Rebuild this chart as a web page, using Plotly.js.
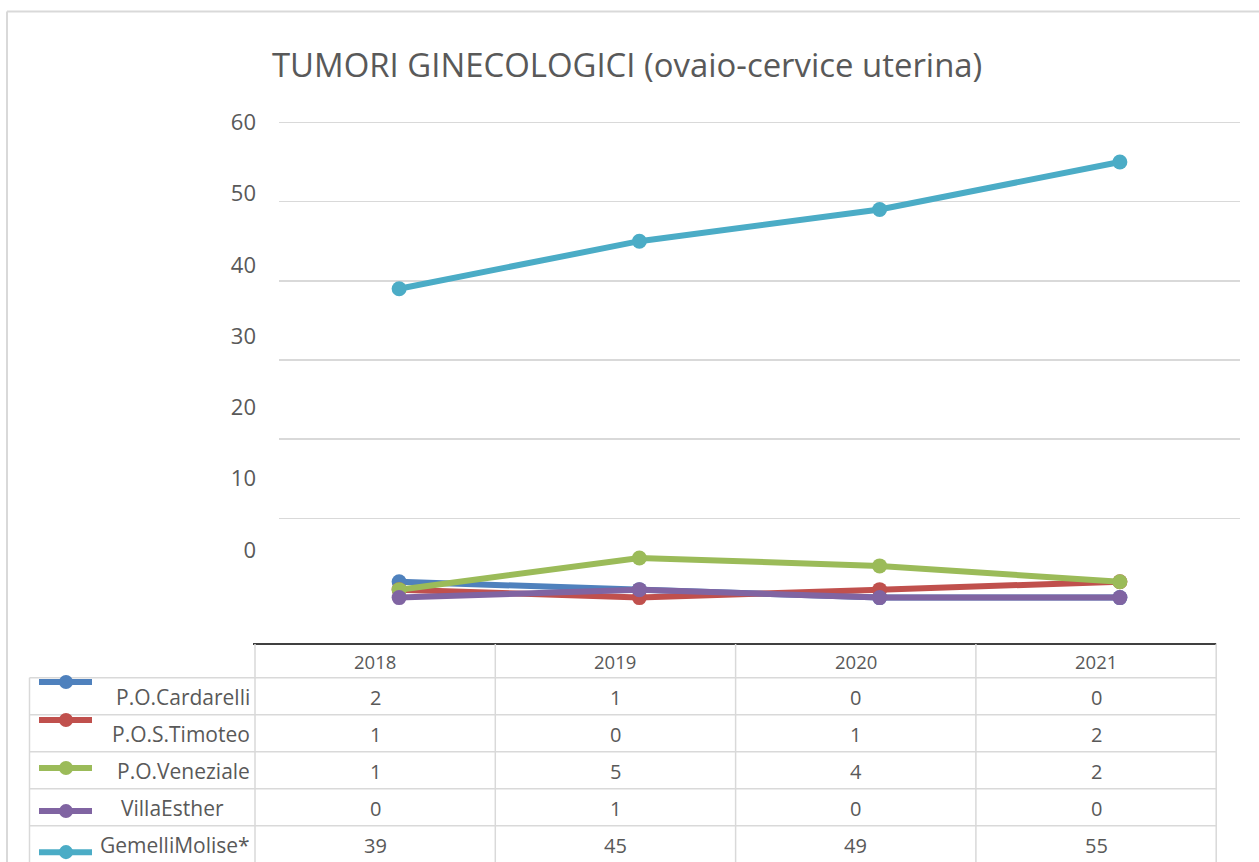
<!DOCTYPE html>
<html>
<head>
<meta charset="utf-8">
<script src="https://cdn.plot.ly/plotly-3.0.1.min.js"></script>
<style>
  html, body { margin: 0; padding: 0; background: #fff; }
  #chart { width: 1259px; height: 862px; }
</style>
</head>
<body>
<div id="chart"></div>
<script>
// data
const years = ["2018", "2019", "2020", "2021"];
const seriesNames = ["P.O.Cardarelli", "P.O.S.Timoteo", "P.O.Veneziale", "VillaEsther", "GemelliMolise*"];
const cardarelli = [2, 1, 0, 0];
const timoteo = [1, 0, 1, 2];
const veneziale = [1, 5, 4, 2];
const villaEsther = [0, 1, 0, 0];
const gemelli = [39, 45, 49, 55];
const yTickValues = [0, 10, 20, 30, 40, 50, 60];

const allSeries = [cardarelli, timoteo, veneziale, villaEsther, gemelli];
const colors = ["#4F81BD", "#C0504D", "#9BBB59", "#8064A2", "#4BACC6"];

const W = 1259, H = 862;
const pxPerUnit = 7.915;
const yMin = -5.86, yMax = 60.3;
const mL = 279, mR = 19, mB = 218;
const mT = 122.7 - (yMax - 60) * pxPerUnit;
const plotW = W - mL - mR, plotH = H - mT - mB;
const grey = "#595959", gridGrey = "#D9D9D9";
const font = "Open Sans, sans-serif";

// pixel -> paper helpers
const px = x => (x - mL) / plotW;
const py = y => (H - mB - y) / plotH;

const traces = allSeries.map((vals, i) => ({
  x: years,
  y: vals,
  type: "scatter",
  mode: "lines+markers",
  name: seriesNames[i],
  line: { color: colors[i], width: 6 },
  marker: { color: colors[i], size: 15 },
  showlegend: false,
  hoverinfo: "skip"
}));

// the tick labels in the picture sit a bit off their gridlines
const labelPos = yTickValues.map(v => 6.01 + v * 0.8998);
traces.push({
  x: [years[0]], y: [null], yaxis: "y2", type: "scatter", mode: "markers",
  showlegend: false, hoverinfo: "skip"
});

const shapes = [];
const annotations = [];

// outer chart border
shapes.push({ type: "line", xref: "paper", yref: "paper", x0: px(7), x1: px(W + 5), y0: py(12), y1: py(12), line: { color: gridGrey, width: 2 } });
shapes.push({ type: "line", xref: "paper", yref: "paper", x0: px(7), x1: px(7), y0: py(12), y1: py(H + 5), line: { color: gridGrey, width: 2 } });

// data table
const tblLeft = 29.5, tblCol0 = 255, colW = 240.3, tblTop = 644, hdrH = 33.7, rowH = 37;
const tblRight = tblCol0 + colW * years.length;
const rowTop = i => tblTop + hdrH + i * rowH;

// horizontal rules
shapes.push({ type: "line", xref: "paper", yref: "paper", x0: px(tblCol0 - 2), x1: px(tblRight), y0: py(tblTop), y1: py(tblTop), line: { color: "#000", width: 1.5 } });
for (let i = 0; i <= seriesNames.length; i++) {
  const y = rowTop(i);
  shapes.push({ type: "line", xref: "paper", yref: "paper", x0: px(tblLeft), x1: px(tblRight), y0: py(y), y1: py(y), line: { color: gridGrey, width: 1.5 } });
}
// vertical rules
shapes.push({ type: "line", xref: "paper", yref: "paper", x0: px(tblLeft), x1: px(tblLeft), y0: py(rowTop(0)), y1: py(H + 5), line: { color: gridGrey, width: 1.5 } });
for (let c = 0; c <= years.length; c++) {
  const x = tblCol0 + c * colW;
  shapes.push({ type: "line", xref: "paper", yref: "paper", x0: px(x), x1: px(x), y0: py(tblTop), y1: py(H + 5), line: { color: gridGrey, width: 1.5 } });
}

// header text
years.forEach((yr, c) => {
  annotations.push({ xref: "paper", yref: "paper", x: px(tblCol0 + (c + 0.5) * colW), y: py(tblTop + hdrH / 2 + 1), text: yr, showarrow: false, xanchor: "center", yanchor: "middle", font: { family: font, size: 18.5, color: grey } });
});

// row labels start at x=119, long ones get pushed back to end at the cell edge
const labelSize = 21;
const ctx = document.createElement("canvas").getContext("2d");
ctx.font = labelSize + "px 'Open Sans'";

// body rows with legend keys
seriesNames.forEach((nm, i) => {
  const mid = rowTop(i) + rowH / 2 + 1;
  const w = ctx.measureText(nm).width * 1.02;
  const fits = 119 + w <= 252;
  annotations.push({ xref: "paper", yref: "paper", x: px(fits ? 119 : 252), y: py(mid), text: nm, showarrow: false, xanchor: fits ? "left" : "right", yanchor: "middle", font: { family: font, size: labelSize, color: grey } });
  allSeries[i].forEach((v, c) => {
    annotations.push({ xref: "paper", yref: "paper", x: px(tblCol0 + (c + 0.5) * colW), y: py(mid), text: String(v), showarrow: false, xanchor: "center", yanchor: "middle", font: { family: font, size: 20, color: grey } });
  });
  const keyY = [682, 720, 768, 811, 852][i];
  shapes.push({ type: "line", xref: "paper", yref: "paper", x0: px(39), x1: px(92), y0: py(keyY), y1: py(keyY), line: { color: colors[i], width: 6 } });
  shapes.push({ type: "circle", xref: "paper", yref: "paper", x0: px(59), x1: px(73), y0: py(keyY + 7), y1: py(keyY - 7), fillcolor: colors[i], line: { width: 0 } });
});

const layout = {
  width: W, height: H,
  margin: { l: mL, r: mR, t: mT, b: mB, pad: 0 },
  paper_bgcolor: "#fff", plot_bgcolor: "#fff",
  font: { family: font, color: grey },
  title: {
    text: "TUMORI GINECOLOGICI (ovaio-cervice uterina)",
    xref: "container", yref: "container",
    x: 272 / W, xanchor: "left",
    y: 1 - 65 / H, yanchor: "middle",
    font: { family: font, size: 32.9, color: grey }
  },
  xaxis: {
    type: "category", range: [-0.5, 3.5],
    showticklabels: false, showgrid: false, zeroline: false, showline: false, ticks: ""
  },
  yaxis: {
    range: [yMin, yMax], tickvals: [10, 20, 30, 40, 50, 60],
    showticklabels: false, showgrid: true, gridcolor: gridGrey, gridwidth: 1.5,
    zeroline: false, showline: false, ticks: ""
  },
  yaxis2: {
    overlaying: "y", side: "left", range: [yMin, yMax],
    tickvals: labelPos, ticktext: yTickValues.map(String),
    showgrid: false, zeroline: false, showline: false, ticks: "",
    ticklabelstandoff: 22,
    tickfont: { family: font, size: 22, color: grey }
  },
  shapes: shapes,
  annotations: annotations,
  showlegend: false
};

Plotly.newPlot("chart", traces, layout, { staticPlot: true });
</script>
</body>
</html>
